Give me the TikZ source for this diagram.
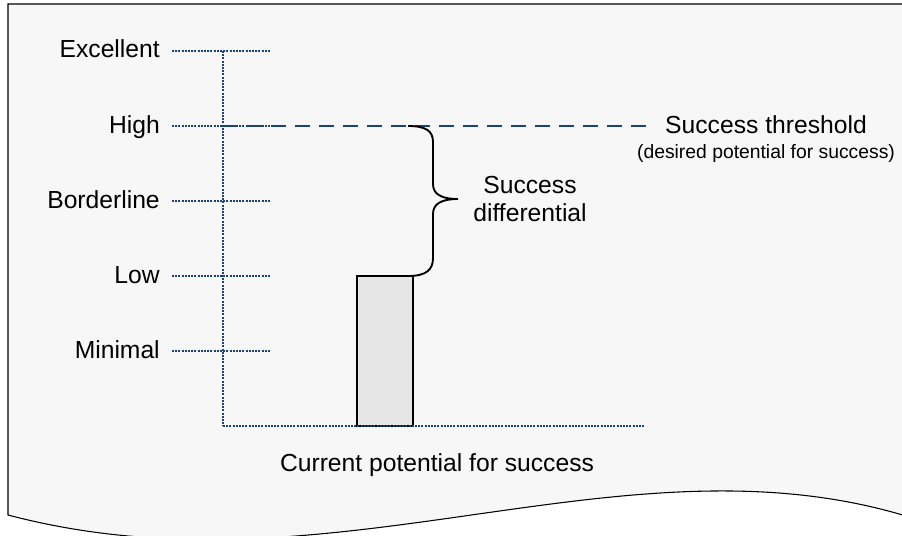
\documentclass[tikz,border=0pt]{standalone}
\usepackage{fontspec}
\setmainfont{Liberation Sans}
\definecolor{paper}{HTML}{F7F7F7}
\definecolor{scaleblue}{HTML}{1A4275}
\definecolor{barfill}{HTML}{E6E6E6}
\begin{document}
\begin{tikzpicture}[x=0.75pt,y=-0.75pt,
    level/.style={anchor=base east,inner sep=0pt,font=\fontsize{18.5}{21}\selectfont},
    big/.style={inner sep=0pt,align=center,font=\fontsize{18.5}{21}\selectfont},
    small/.style={inner sep=0pt,font=\fontsize{14.5}{17}\selectfont},
    grid/.style={scaleblue,line width=1.3pt,dash pattern=on 1.5pt off 0.9pt},
    threshold/.style={scaleblue,line width=1.6pt,dash pattern=on 11.25pt off 6.75pt}]
      \useasboundingbox (0,0) rectangle (902,535);
      % page with wavy bottom
      \draw[fill=paper,line width=0.8pt]
        (8,4) -- (906,4) -- (906,516)
        .. controls (620,430) and (330,600) .. (8,515) -- cycle;
      \draw
        (160,58) node[level] (excellent){Excellent}
        (160,133) node[level] (high){High}
        (160,208) node[level] (borderline){Borderline}
        (160,283) node[level] (low){Low}
        (160,358) node[level] (minimal){Minimal}
        (530,199) node[big] (differential){Success\\differential}
        (766,133) node[small,anchor=base,font=\fontsize{18.5}{21}\selectfont] (threshold){Success threshold}
        (766,158) node[small,anchor=base] (desired){(desired potential for success)}
        (437,471) node[big,anchor=base] (current){Current potential for success};
      \coordinate (top) at (223,51);
      \coordinate (origin) at (223,426);
      \coordinate (xend) at (645,426);
      \coordinate (hstart) at (223,126);
      \coordinate (hend) at (648,126);
      \coordinate (bracetop) at (408,126);
      \coordinate (bracebot) at (408,276);
      % bar
      \draw[fill=barfill,line width=1.1pt] (357,276) rectangle (413,426);
      \begin{scope}[grid]
        \draw (172,51) to (270,51);
        \draw (172,126) to (270,126);
        \draw (172,201) to (270,201);
        \draw (172,276) to (270,276);
        \draw (172,351) to (270,351);
        \draw (top) to (origin);
        \draw (origin) to (xend);
      \end{scope}
      \draw[threshold] (hstart) to (hend);
      % brace
      \draw[line width=1.4pt]
        (bracetop) .. controls (426,126) and (433,131) .. (433,142)
        -- (433,184) .. controls (433,194) and (441,199) .. (458,199)
        .. controls (441,199) and (433,204) .. (433,214)
        -- (433,258) .. controls (433,270) and (426,276) .. (bracebot);
\end{tikzpicture}
\end{document}
